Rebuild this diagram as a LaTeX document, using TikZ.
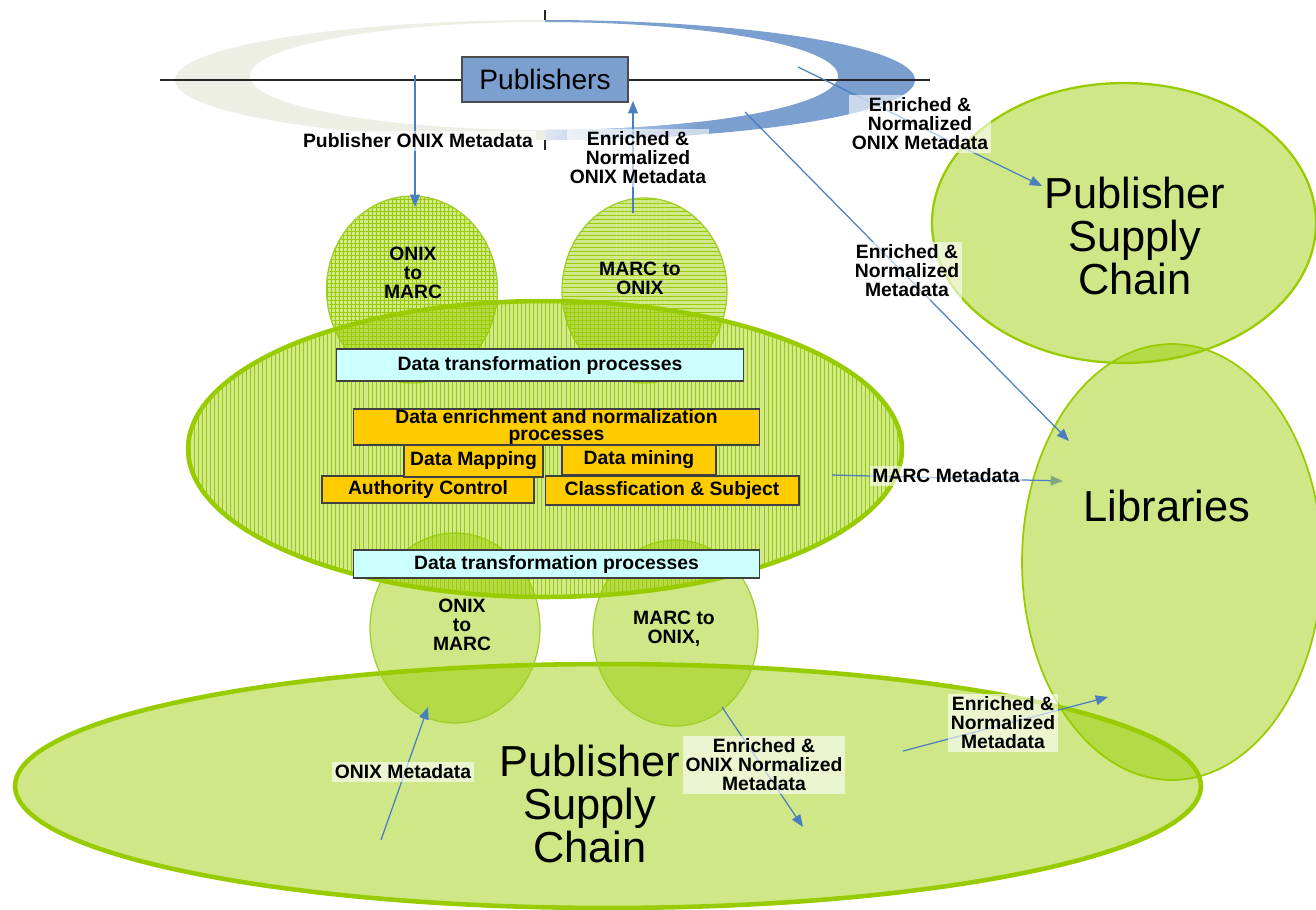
\documentclass[tikz,border=0pt]{standalone}
\usepackage{fontspec}
\setmainfont{Liberation Sans}
\usetikzlibrary{shapes.geometric,arrows.meta,patterns.meta}
\definecolor{gr}{RGB}{153,204,0}
\definecolor{grl}{RGB}{160,206,40}
\definecolor{swgrey}{RGB}{238,239,228}
\definecolor{swblue}{RGB}{123,159,207}
\definecolor{arr}{RGB}{74,126,193}
\definecolor{goldbox}{RGB}{255,204,0}
\definecolor{cyanbox}{RGB}{204,255,255}
\definecolor{tipgreen}{RGB}{128,168,128}
\newcommand\labfont{\bfseries\fontsize{11}{10.8}\selectfont}
\newcommand\bigfont{\fontsize{24.7}{24.4}\selectfont}
\tikzset{
  blob/.style={ellipse, inner sep=0pt, draw=gr, draw opacity=1, fill=gr, fill opacity=0.47},
  smallblob/.style={blob, draw=grl, line width=0.7pt},
  hatchv/.style={ellipse, inner sep=0pt, draw=gr, draw opacity=1,
     preaction={fill=gr, fill opacity=0.45},
     pattern={Lines[angle=90,distance=2.3pt,line width=0.25pt]}, pattern color=gr, fill opacity=0.22},
  hatchh/.style={ellipse, inner sep=0pt, draw=grl, draw opacity=1, line width=0.7pt,
     preaction={fill=gr, fill opacity=0.45},
     pattern={Lines[angle=0,distance=2.3pt,line width=0.25pt]}, pattern color=gr, fill opacity=0.22},
  hatchg/.style={ellipse, inner sep=0pt, draw=grl, draw opacity=1, line width=0.7pt,
     preaction={fill=gr, fill opacity=0.45},
     pattern={Hatch[angle=0,distance=2.3pt,line width=0.25pt]}, pattern color=gr, fill opacity=0.22},
  procbox/.style={draw=black!75, line width=0.6pt, inner sep=0pt, font=\labfont, align=center},
  lab/.style={font=\labfont, align=center, fill=white, fill opacity=0.6, text opacity=1, inner sep=1.5pt},
  ctext/.style={font=\labfont, align=center},
  bigtext/.style={font=\bigfont, align=center},
  flow/.style={draw=arr, line width=0.7pt, -{Triangle[length=7pt,width=5.5pt]}}
}
\begin{document}
\begin{tikzpicture}[x=0.02cm,y=-0.02cm]
\useasboundingbox (0,0) rectangle (1316,910);
\fill[white] (0,0) rectangle (1316,910);

% swoosh
\begin{scope}[even odd rule]
  \clip (545,80) ellipse [x radius=370, y radius=60] (544,76) ellipse [x radius=294, y radius=54];
  \fill[swgrey] (100,0) rectangle (545,200);
  \fill[swblue] (545,0) rectangle (1000,200);
  \shade[left color=swblue!25, right color=swblue] (545,81) rectangle (700,200);
\end{scope}
\draw[black!85, line width=0.6pt] (160,80) -- (930,80);
\draw[black!85, line width=0.6pt] (545,10) -- (545,20);
\draw[black!85, line width=0.6pt] (545,140) -- (545,150);
\node[draw=black!70, line width=0.8pt, fill=swblue, minimum width=3.32cm, minimum height=0.9cm,
      inner sep=0pt, font=\fontsize{16}{16}\selectfont] (pub) at (545,79.5) {Publishers};

% big ellipses
\node[blob, line width=1.3pt, minimum width=7.68cm, minimum height=5.6cm] (psc1) at (1124,223) {};
\node[blob, line width=1pt, minimum width=6cm, minimum height=8.72cm] (lib) at (1172,562) {};
\node[blob, line width=2.6pt, minimum width=23.72cm, minimum height=4.88cm] (psc2) at (608,786) {};

% small ellipses
\node[smallblob, minimum width=3.4cm, minimum height=3.8cm] (lo1) at (455,628) {};
\node[smallblob, minimum width=3.3cm, minimum height=3.72cm] (lo2) at (675.5,633) {};
\node[hatchg, minimum width=3.42cm, minimum height=3.74cm] (up1) at (412,289.5) {};
\node[hatchh, minimum width=3.3cm, minimum height=3.7cm] (up2) at (644.5,290.5) {};

% core ellipse
\node[hatchv, line width=2.6pt, minimum width=14.28cm, minimum height=5.92cm] (core) at (545,449) {};

% texts in ellipses
\node[ctext] (t1) at (413,273) {ONIX\\to\\MARC};
\node[ctext] (t2) at (640,278) {MARC to\\ONIX};
\node[ctext] (t3) at (462,625) {ONIX\\to\\MARC};
\node[ctext] (t4) at (674,629) {MARC to\\ONIX,};
\node[bigtext] (tpsc1) at (1135,236) {Publisher\\Supply\\Chain};
\node[bigtext] (tpsc2) at (590,804) {Publisher\\Supply\\Chain};
\node[bigtext] (tlib) at (1167,506) {Libraries};

% process boxes
\node[procbox, fill=cyanbox, minimum width=8.16cm, minimum height=0.64cm] (dtp1) at (540,365) {Data transformation processes};
\node[procbox, fill=goldbox, minimum width=8.14cm, minimum height=0.72cm, font=\bfseries\fontsize{11}{10.2}\selectfont] (den) at (556.5,427) {Data enrichment and normalization\\processes};
\node[procbox, fill=goldbox, minimum width=4.24cm, minimum height=0.54cm] (auth) at (428,489.5) {Authority Control};
\node[procbox, fill=goldbox, minimum width=2.78cm, minimum height=0.64cm] (dmap) at (473.5,461) {Data Mapping};
\node[procbox, fill=goldbox, minimum width=3.08cm, minimum height=0.6cm] (dmin) at (639,460) {Data mining};
\node[procbox, fill=goldbox, minimum width=5.08cm, minimum height=0.58cm] (cls) at (672,490.5) {Classfication \& Subject};
\node[procbox, fill=cyanbox, minimum width=8.14cm, minimum height=0.56cm] (dtp2) at (556.5,564) {Data transformation processes};

% connectors
\coordinate (a1s) at (415,75);   \coordinate (a1e) at (415,207);
\coordinate (a2s) at (633,213);  \coordinate (a2e) at (633,101);
\coordinate (a3s) at (798,67);   \coordinate (a3e) at (1042,186);
\coordinate (a4s) at (745,112);  \coordinate (a4e) at (1069,441);
\coordinate (a5s) at (832,475);  \coordinate (a5e) at (1063,481);
\coordinate (a6s) at (381,840);  \coordinate (a6e) at (428,707);
\coordinate (a7s) at (722,707);  \coordinate (a7e) at (803,827);
\coordinate (a8s) at (903,751);  \coordinate (a8e) at (1108,697);
\draw[flow] (a1s) -- (a1e);
\draw[flow] (a2s) -- (a2e);
\draw[flow] (a3s) -- (a3e);
\draw[flow] (a4s) -- (a4e);
\draw[flow, -{Triangle[length=7pt,width=5.5pt,color=tipgreen]}] (a5s) -- (a5e);
\draw[flow] (a6s) -- (a6e);
\draw[flow] (a7s) -- (a7e);
\draw[flow] (a8s) -- (a8e);

% labels
\node[lab] (l1) at (418,141) {Publisher ONIX Metadata};
\node[lab] (l2) at (638,158) {Enriched \&\\Normalized\\ONIX Metadata};
\node[lab] (l3) at (920,124) {Enriched \&\\Normalized\\ONIX Metadata};
\node[lab] (l4) at (907,271) {Enriched \&\\Normalized\\Metadata};
\node[lab] (l5) at (946,476) {MARC Metadata};
\node[lab] (l6) at (403,772) {ONIX Metadata};
\node[lab] (l7) at (764,765) {Enriched \&\\ONIX Normalized\\Metadata};
\node[lab] (l8) at (1003,723) {Enriched \&\\Normalized\\Metadata};
\end{tikzpicture}
\end{document}
